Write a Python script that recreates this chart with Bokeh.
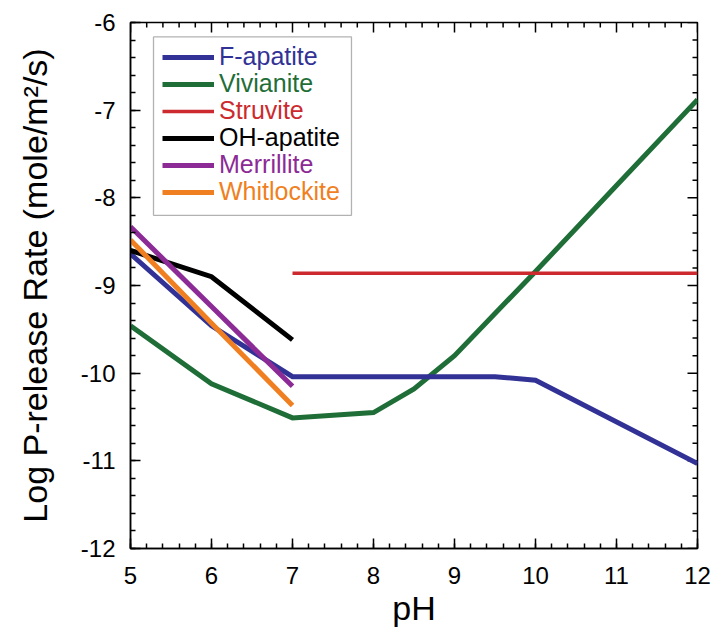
from bokeh.plotting import figure
from bokeh.models import (Legend, LegendItem, FixedTicker, BoxAnnotation, Range1d)
from bokeh.embed import file_html
from bokeh.resources import INLINE
import numpy as np

# ---- data ----
f_apatite_ph = [5, 6, 7, 8, 9, 9.5, 10, 12]
f_apatite_y = [-8.64, -9.46, -10.04, -10.04, -10.04, -10.04, -10.08, -11.03]

vivianite_ph = [5, 6, 7, 8, 8.5, 9, 9.5, 10, 11, 12]
vivianite_y = [-9.46, -10.12, -10.51, -10.45, -10.18, -9.80, -9.32, -8.84, -7.86, -6.88]

struvite_ph = [7, 8, 9, 10, 11, 12]
struvite_y = [-8.86, -8.86, -8.86, -8.86, -8.86, -8.86]

oh_apatite_ph = [5, 6, 7]
oh_apatite_y = [-8.60, -8.90, -9.62]

merrillite_ph = [5, 6, 7]
merrillite_y = [-8.33, -9.24, -10.15]

whitlockite_ph = [5, 6, 7]
whitlockite_y = [-8.48, -9.43, -10.37]

x_ticks = [5, 6, 7, 8, 9, 10, 11, 12]
x_tick_labels = ["5", "6", "7", "8", "9", "10", "11", "12"]
y_ticks = [-12, -11, -10, -9, -8, -7, -6]
y_tick_labels = ["-12", "-11", "-10", "-9", "-8", "-7", "-6"]

FONT = "Liberation Sans"
X0, X1, Y0, Y1 = 5, 12, -12, -6
W, H = 715, 642
BL, BR, BT, BB = 130, 18, 22, 94

p = figure(width=W, height=H, x_range=Range1d(X0, X1), y_range=Range1d(Y0, Y1),
           output_backend="svg", toolbar_location=None,
           min_border_left=BL, min_border_right=BR, min_border_top=BT, min_border_bottom=BB)
p.xgrid.visible = False
p.ygrid.visible = False
p.outline_line_color = "black"
p.outline_line_width = 1.5
p.background_fill_color = "white"
p.border_fill_color = "white"

x_minor = [float(round(v, 2)) for v in np.arange(X0, X1 + 1e-9, 0.2)]
y_minor = [float(round(v, 2)) for v in np.arange(Y0, Y1 + 1e-9, 0.2)]

def style_axis(ax, ticks, minor, labels):
    ax.ticker = FixedTicker(ticks=ticks, minor_ticks=minor)
    ax.axis_line_color = "black"
    ax.axis_line_width = 1.5
    ax.major_tick_in = 10
    ax.major_tick_out = 0
    ax.minor_tick_in = 5
    ax.minor_tick_out = 0
    ax.major_tick_line_color = "black"
    ax.minor_tick_line_color = "black"
    ax.major_tick_line_width = 1.5
    ax.minor_tick_line_width = 1.5
    ax.major_label_overrides = {t: l for t, l in zip(ticks, labels)}
    ax.major_label_text_font = FONT
    ax.major_label_text_font_size = "24px"
    ax.major_label_text_color = "black"

xa = p.xaxis[0]
style_axis(xa, x_ticks, x_minor, x_tick_labels)
xa.major_label_standoff = 18
xa.axis_label = "pH"
xa.axis_label_text_font = FONT
xa.axis_label_text_font_size = "34px"
xa.axis_label_text_font_style = "normal"
xa.axis_label_text_color = "black"
xa.axis_label_standoff = 2

ya = p.yaxis[0]
style_axis(ya, y_ticks, y_minor, y_tick_labels)
ya.major_label_standoff = 15
ya.axis_label = "Log P-release Rate (mole/m\u00b2/s)"
ya.axis_label_text_font = FONT
ya.axis_label_text_font_size = "34px"
ya.axis_label_text_font_style = "normal"
ya.axis_label_text_color = "black"
ya.axis_label_standoff = 24

# inward tick marks on the top and right frame edges (mirroring the axes)
px_x = (X1 - X0) / (W - BL - BR)   # data units per pixel, horizontal
px_y = (Y1 - Y0) / (H - BT - BB)   # data units per pixel, vertical
x_min_only = [v for v in x_minor if abs(v - round(v)) > 1e-6]
y_min_only = [v for v in y_minor if abs(v - round(v)) > 1e-6]
xs, ys = [], []
for ticks, L in ((x_ticks, 10), (x_min_only, 5)):
    for t in ticks:
        xs.append([t, t]); ys.append([Y1, Y1 - L * px_y])
for ticks, L in ((y_ticks, 10), (y_min_only, 5)):
    for t in ticks:
        xs.append([X1, X1 - L * px_x]); ys.append([t, t])
p.multi_line(xs=xs, ys=ys, line_color="black", line_width=1.5)

series = [
    ("F-apatite", f_apatite_ph, f_apatite_y, "#323296", 5),
    ("Vivianite", vivianite_ph, vivianite_y, "#1f6e37", 5),
    ("Struvite", struvite_ph, struvite_y, "#cc2a2e", 3.5),
    ("OH-apatite", oh_apatite_ph, oh_apatite_y, "#000000", 5),
    ("Merrillite", merrillite_ph, merrillite_y, "#8c2a96", 5),
    ("Whitlockite", whitlockite_ph, whitlockite_y, "#f07f22", 5),
]
draw_order = ["Vivianite", "F-apatite", "OH-apatite", "Whitlockite", "Merrillite", "Struvite"]
renderers = {}
for name in draw_order:
    for s in series:
        if s[0] == name:
            renderers[name] = p.line(s[1], s[2], line_color=s[3], line_width=s[4],
                                     line_join="miter", line_cap="butt")

# legend box
box = BoxAnnotation(left=5.284, right=7.728, top=-6.165, bottom=-8.20,
                    fill_color="white", fill_alpha=1.0, line_color="black", line_width=1.3)
p.add_layout(box)

row_center_from_bottom = [490, 463, 436, 409, 382, 355]
for (name, _, _, color, lw), yc in zip(series, row_center_from_bottom):
    lg = Legend(items=[LegendItem(label=name, renderers=[renderers[name]])],
                location=(32, yc - 13), orientation="vertical",
                border_line_color=None, background_fill_alpha=0.0,
                padding=0, margin=0, spacing=0,
                glyph_width=52, glyph_height=26, label_height=26,
                label_standoff=5, label_text_font=FONT, label_text_font_size="25px",
                label_text_color=color, label_text_baseline="middle")
    p.add_layout(lg)

open("out.html", "w").write(file_html(p, INLINE))
